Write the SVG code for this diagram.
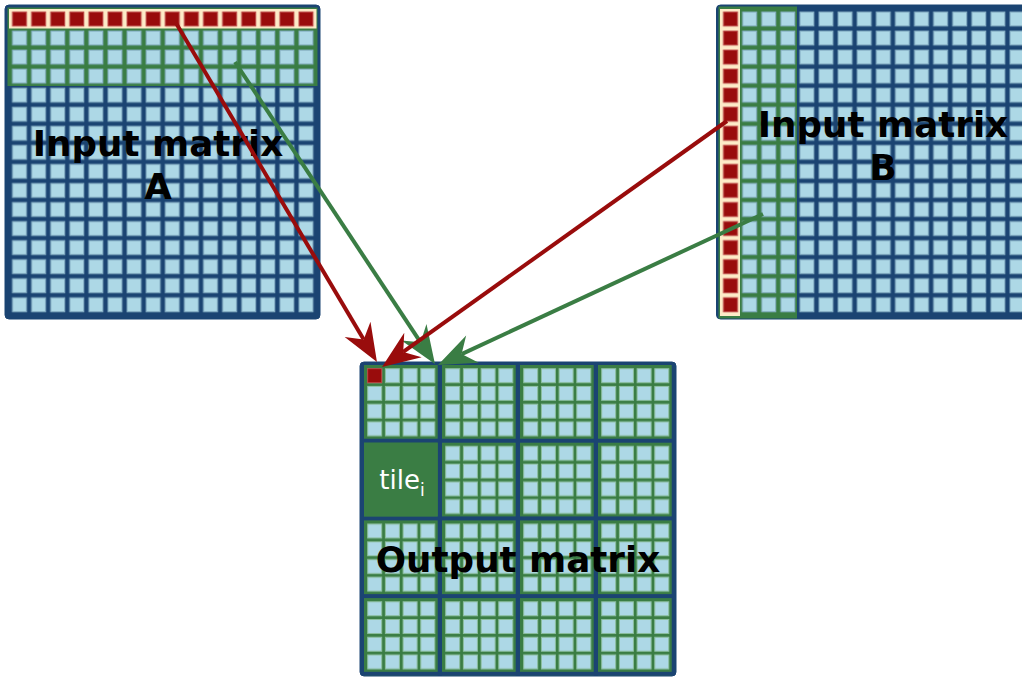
<svg xmlns="http://www.w3.org/2000/svg" width="1022" height="677" viewBox="0 0 1022 677">
  <style>
    .frame { fill: #1b4472; stroke: #1b4472; stroke-width: 1; }
    .lbl { font-family: "DejaVu Sans", "Liberation Sans", sans-serif; font-weight: bold; font-size: 35.7px; fill: #000; text-anchor: middle; }
    .tile { font-family: "DejaVu Sans", "Liberation Sans", sans-serif; font-size: 26px; fill: #fff; text-anchor: middle; }
    .conn { fill: none; stroke-width: 4; }
  </style>
  <defs>
    <pattern id="patA" patternUnits="userSpaceOnUse" x="10.5" y="10" width="19.1" height="19.05">
      <rect x="2" y="2" width="14" height="14" fill="#add8e6" stroke="#86afc4" stroke-width="1"/>
    </pattern>
    <pattern id="patAr" patternUnits="userSpaceOnUse" x="10.5" y="10" width="19.1" height="19.05">
      <rect x="2" y="2" width="14" height="14" fill="#990c0c" stroke="#b84040" stroke-width="1"/>
    </pattern>
    <pattern id="patB" patternUnits="userSpaceOnUse" x="721.5" y="10" width="19.1" height="19.05">
      <rect x="2" y="2" width="14" height="14" fill="#add8e6" stroke="#86afc4" stroke-width="1"/>
    </pattern>
    <pattern id="patBr" patternUnits="userSpaceOnUse" x="721.5" y="10" width="19.1" height="19.05">
      <rect x="2" y="2" width="14" height="14" fill="#990c0c" stroke="#b84040" stroke-width="1"/>
    </pattern>
    <pattern id="patO" patternUnits="userSpaceOnUse" x="364" y="365" width="78" height="77.7">
      <rect x="0" y="0" width="73.7" height="73.7" fill="#3a7d44"/>
      <g fill="#add8e6" stroke="#8cbfa0" stroke-width="1">
        <rect x="3.7" y="3.7" width="14" height="14"/><rect x="21.4" y="3.7" width="14" height="14"/><rect x="39.1" y="3.7" width="14" height="14"/><rect x="56.8" y="3.7" width="14" height="14"/>
        <rect x="3.7" y="21.4" width="14" height="14"/><rect x="21.4" y="21.4" width="14" height="14"/><rect x="39.1" y="21.4" width="14" height="14"/><rect x="56.8" y="21.4" width="14" height="14"/>
        <rect x="3.7" y="39.1" width="14" height="14"/><rect x="21.4" y="39.1" width="14" height="14"/><rect x="39.1" y="39.1" width="14" height="14"/><rect x="56.8" y="39.1" width="14" height="14"/>
        <rect x="3.7" y="56.8" width="14" height="14"/><rect x="21.4" y="56.8" width="14" height="14"/><rect x="39.1" y="56.8" width="14" height="14"/><rect x="56.8" y="56.8" width="14" height="14"/>
      </g>
    </pattern>
    <marker id="arrR" markerUnits="userSpaceOnUse" viewBox="-14 -16 42 32" markerWidth="42" markerHeight="32" refX="0" refY="0" orient="auto">
      <path d="M26,0 L-12,-15 L0,0 L-12,15 Z" fill="#990c0c"/>
    </marker>
    <marker id="arrG" markerUnits="userSpaceOnUse" viewBox="-14 -16 42 32" markerWidth="42" markerHeight="32" refX="0" refY="0" orient="auto">
      <path d="M26,0 L-12,-15 L0,0 L-12,15 Z" fill="#3a7d44"/>
    </marker>
  </defs>

  <g id="matrixA">
    <rect class="frame" x="5" y="5" width="315" height="314" rx="4"/>
    <rect x="7.5" y="7.5" width="310" height="78.5" fill="#3a7d44"/>
    <rect x="9" y="9" width="307.5" height="19.5" fill="#fdebc8"/>
    <rect x="10.5" y="10" width="305.6" height="19.05" fill="url(#patAr)"/>
    <rect x="10.5" y="29.05" width="305.6" height="285.75" fill="url(#patA)"/>
    <text class="lbl" x="158" y="156">Input matrix</text>
    <text class="lbl" x="158" y="199">A</text>
  </g>

  <g id="matrixB">
    <rect class="frame" x="716.5" y="5" width="320" height="314" rx="4"/>
    <rect x="718.5" y="6.5" width="78.5" height="312" fill="#3a7d44"/>
    <rect x="720" y="9" width="20" height="307" fill="#fdebc8"/>
    <rect x="721.5" y="10" width="19.1" height="304.8" fill="url(#patBr)"/>
    <rect x="740.6" y="10" width="290" height="304.8" fill="url(#patB)"/>
    <text class="lbl" x="883" y="137">Input matrix</text>
    <text class="lbl" x="883" y="180">B</text>
  </g>

  <g id="outputMatrix">
    <rect class="frame" x="360" y="362" width="316" height="314" rx="4"/>
    <rect x="364" y="365" width="312" height="310.8" fill="url(#patO)"/>
    <rect x="367.7" y="368.7" width="14" height="14" fill="#990c0c" stroke="#b84040" stroke-width="1"/>
  </g>

  <g id="tile_i">
    <rect x="364" y="442.7" width="73.7" height="73.7" fill="#3a7d44"/>
    <text class="tile" x="402" y="489">tile<tspan font-size="17" dy="7">i</tspan></text>
  </g>

  <g id="outputLabel">
    <text class="lbl" x="518" y="572">Output matrix</text>
  </g>

  <g id="connectors">
    <line class="conn" x1="176" y1="23" x2="363.7" y2="339.6" stroke="#990c0c" marker-end="url(#arrR)"/>
    <line class="conn" x1="235" y1="62" x2="420.6" y2="342.3" stroke="#3a7d44" marker-end="url(#arrG)"/>
    <line class="conn" x1="727" y1="121" x2="403.2" y2="351.9" stroke="#990c0c" marker-end="url(#arrR)"/>
    <line class="conn" x1="763" y1="214" x2="461.6" y2="354.1" stroke="#3a7d44" marker-end="url(#arrG)"/>
  </g>
</svg>
